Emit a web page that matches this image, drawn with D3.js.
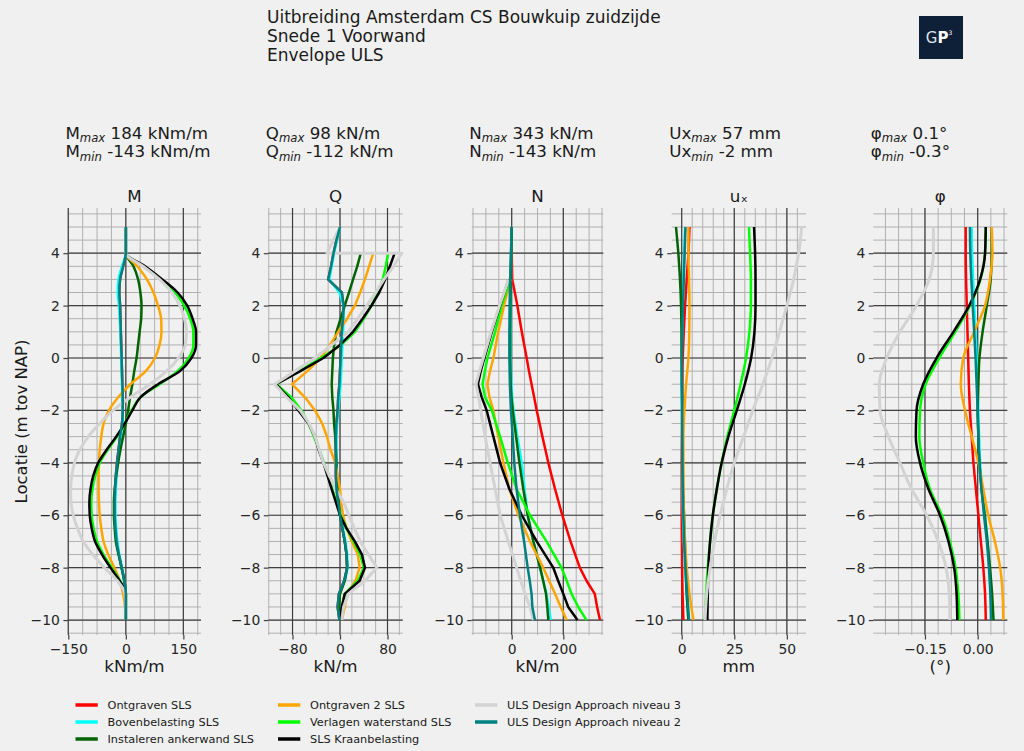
<!DOCTYPE html>
<html><head><meta charset="utf-8">
<script src="https://cdn.jsdelivr.net/npm/d3@7"></script>
<style>
body{margin:0;background:#f0f0f0;}
svg{display:block;font-family:"DejaVu Sans",sans-serif;}
</style>
</head><body>
<svg id="chart" width="1024" height="751"></svg>
<script>
// ---------- series ----------
const seriesNames = ["Ontgraven SLS","Bovenbelasting SLS","Instaleren ankerwand SLS","Ontgraven 2 SLS",
  "Verlagen waterstand SLS","SLS Kraanbelasting","ULS Design Approach niveau 3","ULS Design Approach niveau 2"];
const seriesColors = ["#ff0000","#00ffff","#006400","#ffa500","#00ff00","#000000","#d3d3d3","#008080"];

// ---------- titles ----------
const titleLines = ["Uitbreiding Amsterdam CS Bouwkuip zuidzijde","Snede 1 Voorwand","Envelope ULS"];
const panelTitles = ["M","Q","N","uₓ","φ"];
const panelUnits = ["kNm/m","kN/m","kN/m","mm","(°)"];
const headerMax = [["M","max"," 184 kNm/m"],["Q","max"," 98 kN/m"],["N","max"," 343 kN/m"],["Ux","max"," 57 mm"],["φ","max"," 0.1°"]];
const headerMin = [["M","min"," -143 kNm/m"],["Q","min"," -112 kN/m"],["N","min"," -143 kN/m"],["Ux","min"," -2 mm"],["φ","min"," -0.3°"]];
const yTicks = [-10,-8,-6,-4,-2,0,2,4];

// ---------- M (kNm/m) ----------
const mDepth = [5,4,3.5,3,2.5,2,1.5,1,0.5,0,-0.5,-1,-1.5,-2,-2.5,-3,-3.5,-4,-4.5,-5,-5.5,-6,-6.5,-7,-7.5,-8,-8.5,-9,-9.5,-10];
const mValues = [
 [0,0,-7,-15,-17,-15,-14,-13,-12,-11,-10,-9,-8,-8,-10,-15,-19,-23,-26,-28,-29,-29,-27,-24,-18,-11,-4,0,0,0],
 [0,0,-10,-19,-21,-18,-16,-14,-13,-12,-11,-10,-9,-8,-9,-13,-17,-21,-24,-26,-27,-27,-25,-22,-17,-10,-4,0,0,0],
 [0,0,20,32,38,41,40,36,32,28,22,17,11,6,0,-7,-14,-20,-25,-29,-31,-31,-29,-26,-19,-11,-4,0,0,0],
 [0,0,30,55,72,84,92,93,88,76,52,12,-20,-44,-58,-64,-68,-70,-71,-71,-70,-68,-64,-58,-46,-30,-16,-7,-2,0],
 [0,0,46,90,128,152,168,176,176,164,135,88,38,15,-3,-23,-47,-68,-80,-87,-90,-89,-84,-75,-58,-37,-15,0,0,0],
 [0,0,50,95,135,160,174,183,183,171,141,84,38,17,-3,-25,-50,-72,-85,-92,-95,-94,-89,-80,-62,-40,-16,0,0,0],
 [0,0,45,88,120,141,153,158,155,137,106,63,12,-33,-68,-98,-120,-134,-141,-144,-143,-137,-126,-111,-86,-56,-22,-2,0,0],
 [0,0,-7,-15,-17,-15,-14,-13,-12,-11,-10,-9,-8,-8,-10,-15,-19,-23,-26,-28,-29,-29,-27,-24,-18,-11,-4,0,0,0]
];

// ---------- Q (kN/m) ----------
const qDepth = [5,4.5,4,4,3.5,3,2.5,2,1.5,1,0.5,0,-0.5,-1,-1.5,-2,-2.5,-3,-3.5,-4,-4.5,-5,-5.5,-6,-6.5,-7,-7.5,-8,-8.5,-9,-9.5,-10];
const qValues = [
 [0,-6,-11,-11,-15,-20,3,6,5,3,2,1,0,-1,-3,-4,-6,-7,-7,-7,-7,-6,-3,0,4,8,11,12,7,-2,-4,-1],
 [0,-5,-10,-10,-14,-18,-1,6,6,5,4,3,2,1,-1,-3,-5,-6,-6,-6,-6,-5,-2,1,5,9,12,13,8,-1,-3,0],
 [null,null,null,35,29,22,15,8,1,-6,-10,-12,-13,-14,-13,-11,-10,-8,-7,-6,-5,-4,-2,0,4,8,11,12,8,0,-2,0],
 [null,null,null,56,49,42,34,25,12,-3,-17,-33,-55,-81,-59,-42,-30,-22,-16,-8,-4,0,2,5,11,20,30,33,26,12,8,3],
 [null,null,null,81,77,72,64,53,40,25,2,-32,-70,-107,-82,-65,-53,-44,-35,-27,-20,-13,-6,1,11,23,34,40,30,8,3,0],
 [null,null,null,92,84,76,66,53,38,22,0,-28,-67,-108,-87,-70,-53,-42,-36,-28,-21,-14,-7,0,11,25,37,42,33,8,3,0],
 [0,-11,-22,104,90,74,60,45,30,14,-14,-42,-76,-110,-90,-67,-52,-42,-35,-28,-18,-7,6,15,24,34,48,62,42,14,6,3],
 [0,-6,-11,-11,-15,-20,3,6,5,3,2,1,0,-1,-3,-4,-6,-7,-7,-7,-7,-6,-3,0,4,8,11,12,7,-2,-4,-1]
];

// ---------- N (kN/m) ----------
const nDepth = [5,4,3,2,1,0,-0.5,-1,-1.5,-2,-3,-4,-5,-6,-7,-8,-8.5,-9,-9.5,-10];
const nValues = [
 [0,0,2,22,39,58,67,77,87,97,119,142,168,196,228,264,290,322,331,342],
 [0,-2,-3,-4,-4,-4,-3,-1,2,7,22,39,50,62,84,110,122,135,143,151],
 [0,-2,-4,-5,-6,-6,-5,-4,-1,4,17,30,45,62,84,110,122,133,138,142],
 [null,null,-5,-30,-52,-71,-84,-94,-86,-71,-52,-32,-9,26,71,122,145,168,190,213],
 [null,null,-6,-39,-64,-94,-104,-113,-103,-77,-45,-15,19,71,135,193,213,232,258,290],
 [null,null,-12,-45,-77,-106,-120,-131,-116,-97,-71,-45,-9,39,97,161,180,200,219,255],
 [null,null,-12,-47,-80,-110,-125,-138,-128,-120,-103,-84,-64,-45,-13,19,35,52,71,84],
 [0,-3,-6,-8,-9,-9,-8,-7,-5,-3,4,10,19,32,48,62,70,77,80,90]
];

// ---------- ux (mm) ----------
const uDepth = [5,4,3,2,1,0,-1,-2,-3,-4,-5,-6,-7,-8,-9,-10];
const uValues = [
 [3.7,3.2,2.4,1.6,1.0,0.5,0.3,0.2,0.1,0,0,0,0.1,0.2,0.4,0.8],
 [1.6,1.2,0.8,0.5,0.2,0,0,0.1,0.2,0.3,0.4,0.6,1.0,1.6,2.4,3.2],
 [-2.7,-1.6,-0.8,-0.3,-0.1,0,0.1,0.3,0.4,0.5,0.7,1.1,1.5,1.9,2.4,3.2],
 [3.2,3.2,3.5,3.7,3.6,3.2,2.1,1.3,0.8,0.8,0.8,1.1,1.6,2.4,3.7,5.6],
 [32.0,32.5,32.9,32.9,32.2,30.6,28.0,25.0,21.7,19.0,16.7,14.8,13.5,12.4,11.6,11.0],
 [34.4,34.9,35.1,35.1,34.6,33.0,30.0,26.2,22.2,19.0,16.7,14.8,13.5,12.7,12.4,12.2],
 [57.0,55.6,53.2,50.0,46.5,42.9,38.6,33.8,29.4,25.0,21.4,18.3,15.6,13.5,11.9,11.1],
 [1.8,1.4,1.0,0.6,0.3,0.1,0.1,0.2,0.3,0.4,0.5,0.8,1.2,1.8,2.6,3.5]
];

// ---------- phi (°) ----------
const pDepth = [5,4,3,2,1,0,-1,-2,-3,-4,-5,-6,-7,-8,-9,-10];
const pValues = [
 [-0.034,-0.034,-0.033,-0.031,-0.029,-0.027,-0.025,-0.022,-0.017,-0.012,-0.005,0.002,0.009,0.016,0.021,0.023],
 [-0.017,-0.016,-0.013,-0.010,-0.006,-0.003,0.000,0.002,0.004,0.007,0.013,0.021,0.028,0.033,0.037,0.040],
 [0.040,0.040,0.037,0.026,0.014,0.005,0.002,0.000,0.002,0.005,0.011,0.020,0.028,0.035,0.041,0.045],
 [0.040,0.042,0.035,0.021,-0.010,-0.041,-0.048,-0.036,-0.017,0.002,0.016,0.030,0.049,0.064,0.071,0.073],
 [0.023,0.021,0.008,-0.022,-0.064,-0.109,-0.148,-0.164,-0.166,-0.155,-0.136,-0.102,-0.079,-0.063,-0.055,-0.052],
 [0.023,0.021,0.007,-0.024,-0.069,-0.117,-0.155,-0.174,-0.176,-0.164,-0.140,-0.107,-0.083,-0.067,-0.060,-0.058],
 [-0.126,-0.126,-0.138,-0.174,-0.221,-0.259,-0.280,-0.278,-0.254,-0.221,-0.188,-0.145,-0.112,-0.090,-0.081,-0.079],
 [-0.022,-0.021,-0.018,-0.014,-0.010,-0.006,-0.003,0.000,0.002,0.005,0.011,0.018,0.026,0.032,0.036,0.038]
];

// ---------- axis settings ----------
const xDomains = [[-151,196],[-120.8,105.6],[-155,355],[-4.75,59.1],[-0.297,0.0843]];
const xMajor = [[-150,0,150],[-80,0,80],[0,200],[0,25,50],[-0.15,0]];
const xMinorStep = [37.5,20,50,5,0.0375];
const xMinorStart = [-150,-120,-150,0,-0.3];
const xFormats = [d3.format("d"),d3.format("d"),d3.format("d"),d3.format("d"),d3.format(".2f")];

// ---------- layout ----------
const axLeft = [67.9,268.3,471.7,671.7,873.3];
const axRight = [201,402.7,603.3,806,1007.3];
const axTop = 208, axBottom = 635;
const depths = [mDepth,qDepth,nDepth,uDepth,pDepth];
const values = [mValues,qValues,nValues,uValues,pValues];
const curves = [d3.curveMonotoneY,d3.curveLinear,d3.curveLinear,d3.curveMonotoneY,d3.curveMonotoneY];

const svg = d3.select("#chart");
svg.append("rect").attr("width",1024).attr("height",751).attr("fill","#f0f0f0");

// title
svg.append("g").selectAll("text").data(titleLines).join("text")
  .attr("x",267).attr("y",(d,i)=>23+i*19).attr("font-size",17).attr("fill","#1a1a1a").text(d=>d);

// logo
const logo = svg.append("g");
logo.append("rect").attr("x",919).attr("y",16).attr("width",44).attr("height",43).attr("fill","#0e1f38");
const lt = logo.append("text").attr("x",939).attr("y",42.5).attr("text-anchor","middle").attr("font-size",15).attr("fill","#ffffff");
lt.append("tspan").attr("fill","#dfe4ec").text("G");
lt.append("tspan").attr("font-weight","bold").text("P");
lt.append("tspan").attr("font-size",6).attr("dy",-8).text("3");

const y = d3.scaleLinear().domain([-10.57,5.725]).range([axBottom,axTop]);

// y label
svg.append("text").attr("transform","translate(27,421.5) rotate(-90)").attr("text-anchor","middle")
  .attr("font-size",16.5).attr("fill","#1a1a1a").text("Locatie (m tov NAP)");

function header(g, x, yy, parts){
  const t = g.append("text").attr("x",x).attr("y",yy).attr("font-size",16.7).attr("fill","#1a1a1a");
  t.append("tspan").text(parts[0]);
  t.append("tspan").attr("font-size",11.7).attr("font-style","italic").attr("dy",3.5).text(parts[1]);
  t.append("tspan").attr("dy",-3.5).text(parts[2]);
}

for(let p=0;p<5;p++){
  const g = svg.append("g");
  const x = d3.scaleLinear().domain(xDomains[p]).range([axLeft[p],axRight[p]]);
  const cx = (axLeft[p]+axRight[p])/2;

  header(g, axLeft[p]-2.5, 138.5, headerMax[p]);
  header(g, axLeft[p]-2.5, 157, headerMin[p]);
  g.append("text").attr("x",cx).attr("y",201.5).attr("text-anchor","middle").attr("font-size",16.7)
    .attr("fill","#1a1a1a").text(panelTitles[p]);

  // minor grid
  const xmin = d3.range(xMinorStart[p], xDomains[p][1]+1e-9, xMinorStep[p]).filter(v=>x(v)>=axLeft[p]-0.8);
  const ymin = d3.range(-10.5,5.51,0.5);
  g.append("g").selectAll("line").data(xmin).join("line")
    .attr("x1",d=>x(d)).attr("x2",d=>x(d)).attr("y1",axTop).attr("y2",axBottom)
    .attr("stroke","#b0b0b0").attr("stroke-width",1);
  g.append("g").selectAll("line").data(ymin).join("line")
    .attr("x1",axLeft[p]).attr("x2",axRight[p]).attr("y1",d=>y(d)).attr("y2",d=>y(d))
    .attr("stroke","#b0b0b0").attr("stroke-width",1);
  // major grid
  g.append("g").selectAll("line").data(xMajor[p]).join("line")
    .attr("x1",d=>x(d)).attr("x2",d=>x(d)).attr("y1",axTop).attr("y2",axBottom)
    .attr("stroke","#404040").attr("stroke-width",1.2);
  g.append("g").selectAll("line").data(yTicks).join("line")
    .attr("x1",axLeft[p]).attr("x2",axRight[p]).attr("y1",d=>y(d)).attr("y2",d=>y(d))
    .attr("stroke","#404040").attr("stroke-width",1.2);

  // axes
  const ya = g.append("g").attr("transform",`translate(${axLeft[p]},0)`)
    .call(d3.axisLeft(y).tickValues(yTicks).tickSize(4.5).tickPadding(3.5));
  const xa = g.append("g").attr("transform",`translate(0,${axBottom})`)
    .call(d3.axisBottom(x).tickValues(xMajor[p]).tickFormat(xFormats[p]).tickSize(4.5).tickPadding(4.5));
  [ya,xa].forEach(a=>{
    a.select(".domain").remove();
    a.selectAll("line").attr("stroke","#404040").attr("stroke-width",1.2);
    a.selectAll("text").attr("font-size",13.9).attr("fill","#262626").attr("font-family","DejaVu Sans");
  });

  g.append("text").attr("x",cx).attr("y",672).attr("text-anchor","middle").attr("font-size",16.7)
    .attr("fill","#1a1a1a").text(panelUnits[p]);

  // series
  const line = d3.line().defined(d=>d.v!=null).x(d=>x(d.v)).y(d=>y(d.d)).curve(curves[p]);
  const lg = g.append("g").attr("fill","none").attr("stroke-linejoin","round").attr("stroke-linecap","butt");
  for(let s=0;s<seriesNames.length;s++){
    const data = depths[p].map((d,j)=>({d:d, v:values[p][s][j]}));
    lg.append("path").attr("d",line(data)).attr("stroke",seriesColors[s])
      .attr("stroke-width", s===6 ? 3 : 2.5);
  }
}

// legend
const legCols = [75.5,278,475];
const legRows = [705,722,739];
const leg = svg.append("g");
seriesNames.forEach((n,i)=>{
  const c = Math.floor(i/3), r = i%3;
  const lx = legCols[c], ly = legRows[r];
  leg.append("line").attr("x1",lx).attr("x2",lx+22.3).attr("y1",ly).attr("y2",ly)
    .attr("stroke",seriesColors[i]).attr("stroke-width",3.5);
  leg.append("text").attr("x",lx+32).attr("y",ly+4.1).attr("font-size",11.3).attr("fill","#1a1a1a").text(n);
});
</script>
</body></html>
